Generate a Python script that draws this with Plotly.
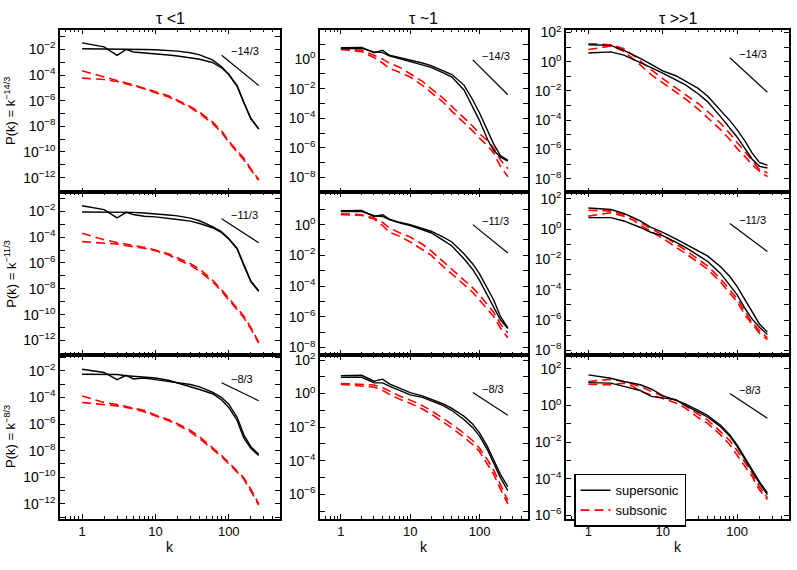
import math
import plotly.graph_objects as go

# wavenumbers sampled off the curves
K = [1, 2, 3, 4, 5, 7, 10, 15, 20, 30, 40, 60, 80, 100, 130, 160, 200, 256]

# log10 P(k). sup = supersonic (black), sub = subsonic (red)
# column tau < 1
lt_143_sup1 = [-1.49, -1.80, -2.46, -2.0, -2.2, -2.26, -2.33, -2.43, -2.51, -2.64, -2.77, -3.02, -3.45, -3.93, -4.83, -6.10, -7.37, -8.18]
lt_143_sup2 = [-1.95, -1.95, -1.95, -1.96, -1.95, -2.0, -2.03, -2.08, -2.13, -2.26, -2.43, -2.82, -3.35, -3.96, -4.88, -6.13, -7.41, -8.22]
lt_143_sub1 = [-3.66, -4.17, -4.42, -4.63, -4.76, -5.01, -5.32, -5.62, -5.96, -6.46, -6.90, -7.66, -8.37, -9.14, -9.91, -10.47, -11.31, -12.15]
lt_143_sub2 = [-4.24, -4.35, -4.50, -4.68, -4.81, -5.06, -5.37, -5.70, -6.03, -6.54, -7.0, -7.77, -8.48, -9.24, -10.01, -10.60, -11.39, -12.2]

lt_113_sup1 = [-1.57, -1.87, -2.51, -2.08, -2.25, -2.38, -2.43, -2.53, -2.63, -2.76, -2.94, -3.27, -3.65, -4.15, -4.91, -6.18, -7.44, -8.2]
lt_113_sup2 = [-2.05, -2.05, -2.05, -2.05, -2.08, -2.13, -2.18, -2.28, -2.35, -2.53, -2.73, -3.19, -3.59, -4.10, -4.86, -6.13, -7.39, -8.15]
lt_113_sub1 = [-3.70, -4.20, -4.41, -4.56, -4.66, -4.78, -4.99, -5.29, -5.62, -6.05, -6.48, -7.32, -8.08, -8.71, -9.47, -10.10, -10.99, -12.13]
lt_113_sub2 = [-4.35, -4.46, -4.53, -4.66, -4.73, -4.86, -5.06, -5.37, -5.72, -6.18, -6.63, -7.44, -8.20, -8.84, -9.59, -10.23, -11.11, -12.2]

lt_83_sup1 = [-1.88, -2.12, -2.66, -2.34, -2.61, -2.54, -2.66, -2.79, -2.86, -3.03, -3.2, -3.6, -4.01, -4.51, -5.49, -6.79, -7.70, -8.27]
lt_83_sup2 = [-2.25, -2.25, -2.27, -2.37, -2.42, -2.47, -2.54, -2.71, -2.91, -3.15, -3.40, -3.72, -4.19, -4.75, -5.73, -7.04, -7.82, -8.36]
lt_83_sub1 = [-3.89, -4.38, -4.53, -4.68, -4.78, -4.97, -5.32, -5.66, -5.98, -6.47, -6.96, -7.77, -8.36, -8.88, -9.49, -10.03, -10.89, -12.0]
lt_83_sub2 = [-4.38, -4.51, -4.63, -4.75, -4.85, -5.07, -5.39, -5.73, -6.05, -6.59, -7.09, -7.87, -8.46, -8.98, -9.59, -10.13, -11.02, -12.1]

# column tau ~ 1
eq_143_sup1 = [0.77, 0.79, 0.44, 0.60, 0.26, 0.11, -0.07, -0.26, -0.44, -0.77, -1.04, -1.77, -2.76, -3.64, -4.86, -5.74, -6.51, -6.84]
eq_143_sup2 = [0.71, 0.73, 0.49, 0.44, 0.22, 0.04, -0.13, -0.35, -0.55, -0.93, -1.21, -2.10, -3.2, -4.15, -5.41, -6.18, -6.62, -6.89]
eq_143_sub1 = [0.71, 0.60, 0.26, 0.0, -0.26, -0.55, -0.99, -1.50, -1.99, -2.65, -3.20, -3.97, -4.53, -5.03, -5.52, -6.0, -6.80, -7.40]
eq_143_sub2 = [0.66, 0.51, 0.11, -0.26, -0.62, -0.88, -1.21, -1.77, -2.25, -2.91, -3.53, -4.30, -4.86, -5.34, -5.85, -6.34, -7.24, -7.95]

eq_113_sup1 = [0.90, 0.92, 0.53, 0.64, 0.36, 0.15, 0.0, -0.24, -0.43, -0.81, -1.13, -1.92, -2.56, -3.21, -4.17, -4.91, -5.98, -6.73]
eq_113_sup2 = [0.85, 0.85, 0.58, 0.53, 0.32, 0.11, -0.06, -0.32, -0.53, -1.03, -1.39, -2.24, -2.93, -3.63, -4.59, -5.28, -6.2, -6.77]
eq_113_sub1 = [0.71, 0.64, 0.43, 0.15, -0.21, -0.53, -0.81, -1.28, -1.71, -2.41, -2.88, -3.59, -4.12, -4.59, -5.19, -5.71, -6.47, -7.05]
eq_113_sub2 = [0.64, 0.60, 0.36, -0.06, -0.49, -0.75, -1.13, -1.60, -1.99, -2.74, -3.21, -3.91, -4.42, -4.91, -5.51, -5.98, -6.73, -7.37]

eq_83_sup1 = [1.07, 1.09, 0.74, 0.86, 0.58, 0.35, 0.06, -0.14, -0.33, -0.62, -0.88, -1.36, -1.83, -2.34, -3.16, -3.94, -4.81, -5.54]
eq_83_sup2 = [0.97, 0.97, 0.64, 0.64, 0.45, 0.19, -0.08, -0.23, -0.43, -0.72, -1.01, -1.56, -2.03, -2.53, -3.35, -4.13, -5.01, -5.79]
eq_83_sub1 = [0.60, 0.55, 0.51, 0.35, 0.16, -0.14, -0.39, -0.72, -1.01, -1.50, -1.83, -2.38, -2.81, -3.26, -3.94, -4.56, -5.46, -6.37]
eq_83_sub2 = [0.55, 0.47, 0.39, 0.19, -0.04, -0.33, -0.58, -0.92, -1.21, -1.70, -2.05, -2.61, -3.04, -3.45, -4.17, -4.81, -5.69, -6.57]

# column tau >> 1
gg_143_sup1 = [1.16, 1.12, 0.78, 0.49, 0.22, -0.18, -0.63, -0.96, -1.30, -1.83, -2.35, -3.31, -4.03, -4.65, -5.48, -6.26, -6.89, -7.09]
gg_143_sup2 = [0.60, 0.67, 0.45, 0.18, -0.04, -0.40, -0.78, -1.23, -1.57, -2.19, -2.73, -3.76, -4.52, -5.15, -6.0, -6.67, -7.16, -7.27]
gg_143_sub1 = [1.23, 1.16, 0.89, 0.45, 0.04, -0.56, -1.16, -1.79, -2.24, -2.86, -3.40, -4.21, -4.92, -5.55, -6.22, -6.76, -7.38, -7.61]
gg_143_sub2 = [0.83, 1.07, 0.72, 0.22, -0.22, -0.89, -1.45, -2.06, -2.53, -3.24, -3.80, -4.65, -5.32, -5.93, -6.53, -7.05, -7.49, -7.87]

gg_113_sup1 = [1.40, 1.30, 1.04, 0.76, 0.54, 0.11, -0.22, -0.65, -0.97, -1.40, -1.77, -2.48, -3.13, -3.78, -4.75, -5.51, -6.26, -6.80]
gg_113_sup2 = [0.76, 0.76, 0.54, 0.32, 0.11, -0.22, -0.43, -0.86, -1.19, -1.73, -2.12, -2.92, -3.67, -4.32, -5.29, -5.94, -6.48, -6.95]
gg_113_sub1 = [1.25, 1.19, 0.97, 0.76, 0.43, 0.04, -0.39, -0.97, -1.36, -1.99, -2.42, -3.28, -4.0, -4.58, -5.51, -6.16, -6.70, -7.17]
gg_113_sub2 = [0.86, 1.08, 0.86, 0.60, 0.26, -0.17, -0.60, -1.19, -1.58, -2.20, -2.64, -3.50, -4.21, -4.79, -5.72, -6.31, -6.87, -7.30]

gg_83_sup1 = [1.67, 1.49, 1.31, 1.22, 1.13, 0.90, 0.54, 0.29, 0.09, -0.27, -0.54, -1.08, -1.61, -2.15, -2.90, -3.53, -4.16, -4.78]
gg_83_sup2 = [1.25, 1.22, 1.04, 0.90, 0.82, 0.50, 0.41, 0.32, 0.0, -0.36, -0.63, -1.16, -1.68, -2.24, -2.99, -3.62, -4.25, -4.87]
gg_83_sub1 = [1.31, 1.43, 1.31, 1.18, 1.04, 0.77, 0.50, 0.29, 0.0, -0.48, -0.79, -1.43, -1.92, -2.46, -3.17, -3.71, -4.43, -5.05]
gg_83_sub2 = [1.16, 1.13, 1.22, 1.04, 0.77, 0.59, 0.36, 0.14, -0.13, -0.66, -0.97, -1.61, -2.15, -2.69, -3.35, -3.89, -4.61, -5.14]

COL_TITLES = ["τ <1", "τ ~1", "τ >>1"]
ROW_EXP = ["14/3", "11/3", "8/3"]
SLOPES = [-14 / 3, -11 / 3, -8 / 3]
# reference power law: k from 80 to 256, log10 P at k = 80
REF_K = [80, 256]
REF_START = [[-2.46, -0.05, 0.27], [-2.58, 0.0, 0.37], [-2.9, 0.06, 0.65]]

PANELS = [
    [(lt_143_sup1, lt_143_sup2, lt_143_sub1, lt_143_sub2),
     (eq_143_sup1, eq_143_sup2, eq_143_sub1, eq_143_sub2),
     (gg_143_sup1, gg_143_sup2, gg_143_sub1, gg_143_sub2)],
    [(lt_113_sup1, lt_113_sup2, lt_113_sub1, lt_113_sub2),
     (eq_113_sup1, eq_113_sup2, eq_113_sub1, eq_113_sub2),
     (gg_113_sup1, gg_113_sup2, gg_113_sub1, gg_113_sub2)],
    [(lt_83_sup1, lt_83_sup2, lt_83_sub1, lt_83_sub2),
     (eq_83_sup1, eq_83_sup2, eq_83_sub1, eq_83_sub2),
     (gg_83_sup1, gg_83_sup2, gg_83_sub1, gg_83_sub2)],
]

# y axis range (log10) and labelled decades for each panel
Y_RANGES = [[(-13.15, -0.45), (-9.0, 2.0), (-8.94, 2.2)],
            [(-13.14, -0.53), (-8.5, 2.1), (-8.32, 2.43)],
            [(-13.13, -0.82), (-7.47, 2.29), (-6.2, 2.75)]]
Y_LABELLED = [[(-12, -2), (-8, 0), (-8, 2)],
              [(-12, -2), (-8, 0), (-8, 2)],
              [(-12, -2), (-6, 2), (-6, 2)]]

W, H = 797, 570
COL_PX = [(60, 280), (320, 528), (566, 789)]
ROW_PX = [(23, 189), (189, 355), (355, 522)]
FONT = "Liberation Sans, Arial, Helvetica, sans-serif"


def pow_label(e):
    return "10<sup>" + str(e).replace("-", "−") + "</sup>"


fig = go.Figure()
layout = {}
annotations = []

x_minor = [m * 10 ** d for d in (-1, 0, 1, 2) for m in range(2, 10) if 0.5 <= m * 10 ** d <= 500]

for r in range(3):
    for c in range(3):
        n = r * 3 + c + 1
        xa = "x" if n == 1 else "x%d" % n
        ya = "y" if n == 1 else "y%d" % n
        sup1, sup2, sub1, sub2 = PANELS[r][c]
        last = (n == 9)

        for j, vals in enumerate((sub1, sub2)):
            fig.add_trace(go.Scatter(
                x=K, y=[10 ** v for v in vals], xaxis=xa, yaxis=ya, mode="lines",
                line=dict(color="#ff0000", width=1.6, dash="9px,5px"),
                name="subsonic", showlegend=(last and j == 0), legendrank=2))
        for j, vals in enumerate((sup1, sup2)):
            fig.add_trace(go.Scatter(
                x=K, y=[10 ** v for v in vals], xaxis=xa, yaxis=ya, mode="lines",
                line=dict(color="black", width=1.4),
                name="supersonic", showlegend=(last and j == 0), legendrank=1))

        # power-law guide line
        s0 = REF_START[r][c]
        ref_y = [10 ** (s0 + SLOPES[r] * math.log10(k / REF_K[0])) for k in REF_K]
        fig.add_trace(go.Scatter(x=REF_K, y=ref_y, xaxis=xa, yaxis=ya, mode="lines",
                                 line=dict(color="black", width=1.2), showlegend=False,
                                 hoverinfo="skip"))
        annotations.append(dict(x=2.0, y=s0, xref=xa, yref=ya, text="−" + ROW_EXP[r],
                                showarrow=False, xanchor="left", yanchor="middle", yshift=4,
                                font=dict(size=11, color="black", family=FONT)))

        x0, x1 = COL_PX[c]
        y0, y1 = ROW_PX[r]
        lo, hi = Y_RANGES[r][c]
        e_lo, e_hi = Y_LABELLED[r][c]
        major = list(range(e_lo, e_hi + 1, 2))
        minor = [e for e in range(math.ceil(lo), math.floor(hi) + 1) if e not in major]

        layout["xaxis" if n == 1 else "xaxis%d" % n] = dict(
            type="log", range=[math.log10(0.5), math.log10(500)],
            domain=[x0 / W, x1 / W], anchor=ya,
            showline=True, mirror="ticks", linecolor="black", linewidth=1.5,
            ticks="inside", ticklen=5, tickwidth=1, tickcolor="black",
            tickmode="array", tickvals=[1, 10, 100], ticktext=["1", "10", "100"],
            showticklabels=(r == 2),
            minor=dict(ticks="inside", ticklen=3, tickwidth=1, tickcolor="black",
                       tickmode="array", tickvals=x_minor),
            showgrid=False, zeroline=False,
            tickfont=dict(size=13, color="black", family=FONT))
        layout["yaxis" if n == 1 else "yaxis%d" % n] = dict(
            type="log", range=[lo, hi],
            domain=[1 - y1 / H, 1 - y0 / H], anchor=xa,
            showline=True, mirror="ticks", linecolor="black", linewidth=1.5,
            ticks="inside", ticklen=5, tickwidth=1, tickcolor="black",
            tickmode="array", tickvals=[10 ** e for e in major],
            ticktext=[pow_label(e) for e in major],
            minor=dict(ticks="inside", ticklen=5, tickwidth=1, tickcolor="black",
                       tickmode="array", tickvals=[10 ** e for e in minor]),
            showgrid=False, zeroline=False,
            tickfont=dict(size=14, color="black", family=FONT))

for c in range(3):
    xc = (COL_PX[c][0] + COL_PX[c][1]) / 2 / W
    annotations.append(dict(x=xc, y=1 - 12 / H, xref="paper", yref="paper",
                            xanchor="center", yanchor="middle",
                            text=COL_TITLES[c], showarrow=False,
                            font=dict(size=16, color="black", family=FONT)))
    annotations.append(dict(x=xc, y=1 - 551 / H, xref="paper", yref="paper",
                            xanchor="center", yanchor="middle",
                            text="k", showarrow=False,
                            font=dict(size=14, color="black", family=FONT)))

for r in range(3):
    yc = 1 - (ROW_PX[r][0] + ROW_PX[r][1]) / 2 / H
    annotations.append(dict(x=10 / W, y=yc, xref="paper", yref="paper", textangle=-90,
                            xanchor="center", yanchor="middle",
                            text="P(k) = k<sup>−" + ROW_EXP[r] + "</sup>", showarrow=False,
                            font=dict(size=13, color="black", family=FONT)))

fig.update_layout(
    width=W, height=H, autosize=False,
    margin=dict(l=0, r=0, t=0, b=0),
    paper_bgcolor="white", plot_bgcolor="white",
    font=dict(family=FONT, color="black", size=13),
    annotations=annotations,
    showlegend=True,
    legend=dict(x=574 / W, y=1 - 476 / H, xanchor="left", yanchor="top",
                bgcolor="white", bordercolor="black", borderwidth=1.5,
                font=dict(size=13, color="black", family=FONT),
                tracegroupgap=0, itemwidth=30),
    **layout)

# the page body has an 8px default margin; drop it so the figure sits at the corner
fig.write_html("out.html", config={"displayModeBar": False},
               post_script="document.body.style.margin='0px';")
